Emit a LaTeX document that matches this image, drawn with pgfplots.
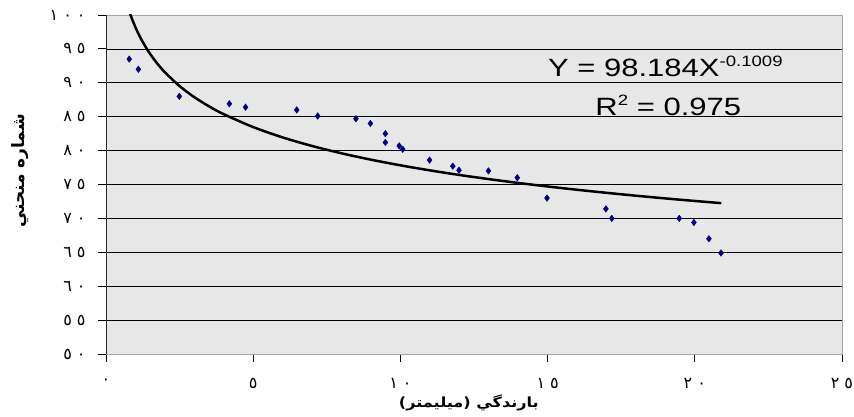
\documentclass[border=0pt]{standalone}
\usepackage{fontspec}
\usepackage{pgfplots}
\pgfplotsset{compat=1.18}
\TeXXeTstate=1
\setmainfont{Liberation Sans}
\newfontfamily\arabicfont[Script=Arabic]{DejaVu Sans}
\definecolor{plotbg}{RGB}{231,231,231}
\definecolor{navymark}{RGB}{0,0,128}
\newcommand\gap{\hspace{5pt}}
\newcommand\ad[1]{{\arabicfont\fontsize{16}{16}\selectfont #1}}
\begin{document}
\begin{tikzpicture}
\path[use as bounding box] (0,0) rectangle (854pt,417pt);
\fill[fill=plotbg] (106pt,63pt) rectangle (842pt,402pt);
\begin{axis}[
  at={(106pt,63pt)}, anchor=south west,
  scale only axis, width=736pt, height=339pt,
  xmin=0, xmax=25, ymin=50, ymax=100,
  xtick={0,5,10,15,20,25},
  ytick={50,55,60,65,70,75,80,85,90,95,100},
  xticklabels={\ad{٠},\ad{٥},\ad{١\gap٠},\ad{١\gap٥},\ad{٢\gap٠},\ad{٢\gap٥}},
  yticklabels={\ad{٥\gap٠},\ad{٥\gap٥},\ad{٦\gap٠},\ad{٦\gap٥},\ad{٧\gap٠},\ad{٧\gap٥},\ad{٨\gap٠},\ad{٨\gap٥},\ad{٩\gap٠},\ad{٩\gap٥},\ad{١\gap٠\gap٠}},
  xtick pos=bottom, ytick pos=left,
  tick align=outside, major tick length=8pt,
  tick style={black, line width=0.8pt},
  ymajorgrids, grid style={black, line width=0.7pt},
  axis line style={draw=gray!70, line width=0.8pt},
  yticklabel style={anchor=east, xshift=-9pt},
  xticklabel style={anchor=north, yshift=-13pt},
  xlabel={\arabicfont\bfseries\fontsize{14}{16}\selectfont\beginR بارندگي (ميليمتر)\endR},
  ylabel={\arabicfont\bfseries\fontsize{17}{19}\selectfont\beginR شماره منحني\endR},
  xlabel style={at={(axis description cs:0.493,-0.145)}, anchor=center, xscale=1.15},
  ylabel style={at={(axis description cs:-0.117,0.54)}, anchor=center, rotate=0},
  clip=true,
]
\addplot[only marks, mark=diamond*, mark size=3.3pt, color=navymark] coordinates {
(0.79,93.5) (1.10,92.0) (2.49,88.0) (4.19,86.9) (4.74,86.4) (6.48,86.0)
(7.19,85.1) (8.49,84.7) (8.98,84.0) (9.49,82.5) (9.49,81.2) (9.96,80.7)
(10.08,80.2) (10.99,78.6) (11.78,77.7) (11.99,77.1) (12.99,77.0) (13.97,76.0)
(14.98,73.0) (16.98,71.4) (17.18,70.0) (19.47,70.0) (19.97,69.4) (20.48,67.0)
(20.89,64.9)
};
\addplot[black, line width=2.5pt, smooth] coordinates {
(0.8,100.42) (0.85,99.807) (0.9,99.233) (1.0,98.184) (1.1,97.244) (1.2,96.394)
(1.4,94.907) (1.6,93.637) (1.8,92.530) (2.0,91.552) (2.5,89.513) (3.0,87.882)
(3.5,86.526) (4,85.368) (5,83.467) (6,81.946) (7,80.681) (8,79.601) (9,78.661)
(10,77.829) (11,77.084) (12,76.410) (13,75.796) (14,75.231) (15,74.709)
(16,74.224) (17,73.772) (18,73.347) (19,72.948) (20,72.572) (20.9,72.250)
};
\draw[black!85, line width=0.9pt] (rel axis cs:0,1) -- (rel axis cs:0,0) -- (rel axis cs:1,0);
\node[anchor=base, xscale=1.24, font=\fontsize{25}{30}\selectfont] at (axis description cs:0.760,0.818)
  {Y = 98.184X\raisebox{10pt}{\fontsize{15}{15}\selectfont -0.1009}};
\node[anchor=base, xscale=1.24, font=\fontsize{25}{30}\selectfont] at (axis description cs:0.764,0.705)
  {R\raisebox{10pt}{\fontsize{15}{15}\selectfont 2} = 0.975};
\end{axis}
\end{tikzpicture}
\end{document}
